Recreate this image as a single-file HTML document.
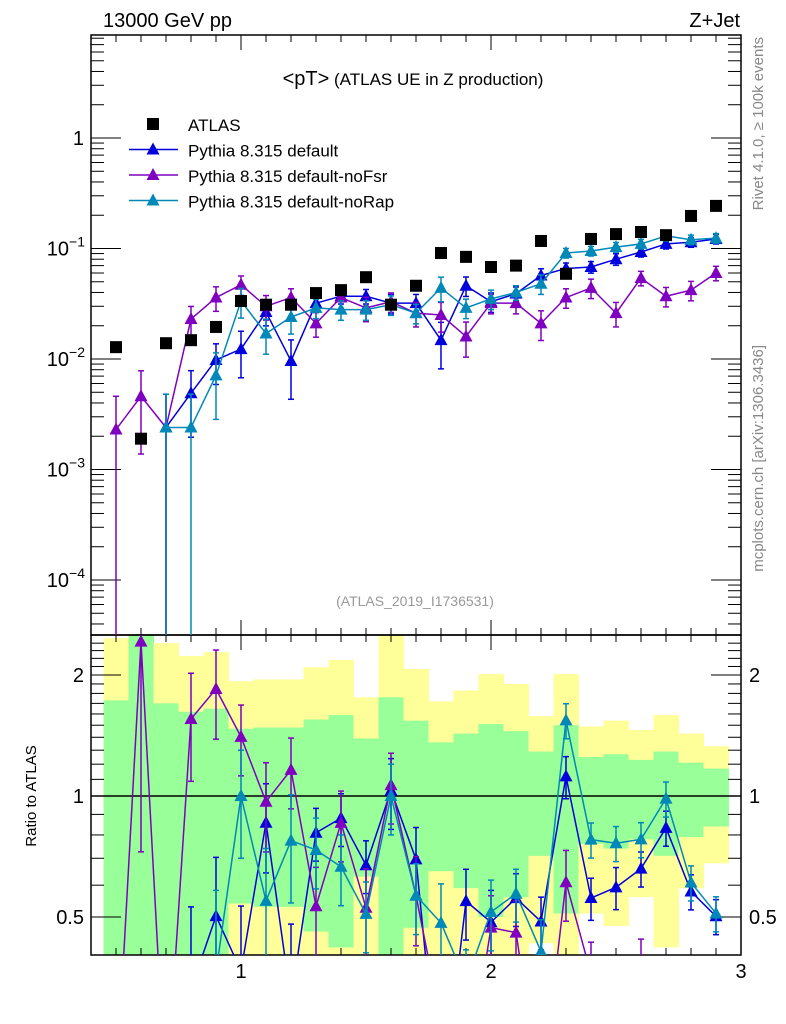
<!DOCTYPE html>
<html><head><meta charset="utf-8"><style>
html,body{margin:0;padding:0;background:#fff;width:786px;height:1024px;overflow:hidden}
svg{display:block}
svg text{font-family:"Liberation Sans",sans-serif}
</style></head><body>
<svg id="c" width="786" height="1024" xmlns="http://www.w3.org/2000/svg"></svg>
<script>
const xs=[0.5,0.6,0.7,0.8,0.9,1.0,1.1,1.2,1.3,1.4,1.5,1.6,1.7,1.8,1.9,2.0,2.1,2.2,2.3,2.4,2.5,2.6,2.7,2.8,2.9];
const atlas=[0.0128,0.0019,0.0139,0.0148,0.0195,0.0335,0.031,0.031,0.0395,0.042,0.055,0.031,0.046,0.091,0.084,0.068,0.070,0.117,0.059,0.122,0.135,0.141,0.132,0.197,0.243];
const pyDefault=[null,null,0.0024,0.0049,0.0098,0.0123,0.0266,0.0096,0.032,0.037,0.037,0.032,0.032,0.0148,0.046,0.033,0.039,0.057,0.066,0.068,0.080,0.093,0.110,0.114,0.122];
const pyNoFsr=[0.0023,0.0046,0.0024,0.023,0.036,0.047,0.030,0.036,0.021,0.036,0.029,0.033,0.026,0.025,0.016,0.032,0.032,0.021,0.036,0.044,0.026,0.054,0.037,0.042,0.060];
const pyNoRap=[null,null,0.0024,0.0024,0.0071,0.0335,0.017,0.024,0.029,0.028,0.028,0.031,0.026,0.044,0.029,0.035,0.040,0.048,0.091,0.095,0.103,0.110,0.130,0.120,0.124];
const errDefault=[0,0,1,0.6,0.4,0.45,0.25,0.55,0.15,0.15,0.15,0.2,0.2,0.45,0.2,0.2,0.15,0.15,0.12,0.12,0.12,0.1,0.1,0.1,0.1];
const errNoFsr=[1,0.7,1,0.3,0.25,0.2,0.25,0.2,0.25,0.2,0.25,0.2,0.25,0.3,0.35,0.2,0.2,0.3,0.2,0.2,0.25,0.15,0.2,0.2,0.15];
const errNoRap=[0,0,1,1,0.6,0.3,0.35,0.3,0.2,0.2,0.2,0.2,0.2,0.25,0.2,0.2,0.15,0.2,0.1,0.1,0.1,0.1,0.1,0.1,0.1];
const yellowHi=[2.47,2.6,2.40,2.23,2.28,1.93,1.95,1.95,2.09,2.18,1.76,2.6,2.07,1.72,1.83,2.01,1.90,1.58,2.01,1.49,1.54,1.46,1.59,1.43,1.33];
const greenHi=[1.73,2.6,1.70,1.62,1.65,1.47,1.48,1.48,1.55,1.59,1.39,1.76,1.54,1.36,1.43,1.51,1.45,1.29,1.50,1.25,1.27,1.23,1.29,1.21,1.17];
const greenLo=[0.3,0.3,0.3,0.3,0.3,0.54,0.53,0.53,0.46,0.42,0.63,0.3,0.47,0.65,0.59,0.50,0.56,0.71,0.51,0.76,0.74,0.78,0.71,0.79,0.84];
const yellowLo=[0.3,0.3,0.3,0.3,0.3,0.3,0.3,0.3,0.3,0.3,0.3,0.3,0.3,0.3,0.3,0.3,0.3,0.43,0.3,0.51,0.475,0.56,0.42,0.59,0.68];
const binW=0.1;
const xTickLabels=["1","2","3"];

const svg=document.getElementById('c');
const NS='http://www.w3.org/2000/svg';
const L=91,R=741,T=35,M=635,B=955,YMAX=1000;
const X=v=>L+(v-0.4)*250;
const Y=v=>138-Math.log10(v)*110.5;
const YR=v=>796-Math.log2(v)*121;
function mk(tag,attrs,parent){const e=document.createElementNS(NS,tag);for(const k in attrs)e.setAttribute(k,attrs[k]);(parent||svg).appendChild(e);return e;}
function txt(s,x,y,attrs,parent){const e=mk('text',Object.assign({x:x,y:y},attrs),parent);e.textContent=s;return e;}
const clipD=mk('defs',{});
const cp1=mk('clipPath',{id:'cm'},clipD);mk('rect',{x:L,y:T,width:R-L,height:M-T},cp1);
const cp2=mk('clipPath',{id:'cr'},clipD);mk('rect',{x:L,y:M,width:R-L,height:B-M},cp2);

const gBand=mk('g',{'clip-path':'url(#cr)'});


xs.forEach((x,i)=>{
  const x0=X(x-binW/2),w=X(x+binW/2)-x0;
  const y1=mk('rect',{x:x0,y:YR(yellowHi[i]),width:w+0.5,height:Math.min(YR(yellowLo[i]),B)-YR(yellowHi[i]),fill:'#ffff99'},gBand);
  
  
  const g1=mk('rect',{x:x0,y:YR(greenHi[i]),width:w+0.5,height:Math.min(YR(greenLo[i]),B)-YR(greenHi[i]),fill:'#99ff99'},gBand);
  
  
});
mk('line',{x1:L,x2:R,y1:YR(1),y2:YR(1),stroke:'#000','stroke-width':1.5});

mk('rect',{x:L,y:T,width:R-L,height:M-T,fill:'none',stroke:'#000','stroke-width':1.5});
mk('rect',{x:L,y:M,width:R-L,height:B-M,fill:'none',stroke:'#000','stroke-width':1.5});

for(let k=4;k<=30;k++){const v=k/10,x=X(v),maj=(k%10===0),len=maj?15:7;
  [[T,1],[M,-1],[M,1],[B,-1]].forEach(([y0,d])=>mk('line',{x1:x,x2:x,y1:y0,y2:y0+d*len,stroke:'#000','stroke-width':1}));
}
xTickLabels.forEach((s,i)=>{const t=txt(s,X(i+1),978,{'font-size':20,'text-anchor':'middle'});});
for(let d=-5;d<=0;d++){for(let m=1;m<=9;m++){const v=m*Math.pow(10,d),y=Y(v);if(y<T||y>M)continue;const len=m===1?30:13;
  mk('line',{x1:L,x2:L+len,y1:y,y2:y,stroke:'#000'});mk('line',{x1:R,x2:R-len,y1:y,y2:y,stroke:'#000'});}}
const yl=[[1,'1'],[0.1,'10'],[0.01,'10'],[0.001,'10'],[0.0001,'10']];
const ex=['','−1','−2','−3','−4'];
yl.forEach(([v,s],i)=>{const t=txt('',84,Y(v)+7,{'font-size':20,'text-anchor':'end'});
  if(i===0)t.textContent='1';else{const a=mk('tspan',{},t);a.textContent='10';const b=mk('tspan',{dy:-9,'font-size':14},t);b.textContent=ex[i];t.setAttribute('x',85);}});
for(let v=0.4;v<=2.5;v+=0.1){const y=YR(v);if(y<M||y>B)continue;const maj=Math.abs(v-0.5)<1e-6||Math.abs(v-1)<1e-6||Math.abs(v-2)<1e-6;const len=maj?30:13;
  mk('line',{x1:L,x2:L+len,y1:y,y2:y,stroke:'#000'});mk('line',{x1:R,x2:R-len,y1:y,y2:y,stroke:'#000'});}
[[2,'2'],[1,'1'],[0.5,'0.5']].forEach(([v,s])=>{txt(s,84,YR(v)+7,{'font-size':20,'text-anchor':'end'});txt(s,749,YR(v)+7,{'font-size':20});});

const series=[[pyDefault,errDefault,'#0000dd','pythia-default'],[pyNoFsr,errNoFsr,'#8000c0','pythia-nofsr'],[pyNoRap,errNoRap,'#0088b8','pythia-norap']];
function tri(x,y,c,p){return mk('path',{d:`M${x} ${y-7}L${x+6.5} ${y+5}L${x-6.5} ${y+5}Z`,fill:c},p);}
function seg(a,b,c,g){
  let [x1,y1]=a,[x2,y2]=b;
  if(y1>YMAX&&y2>YMAX)return;
  if(y1>YMAX){const t=(YMAX-y2)/(y1-y2);x1=x2+(x1-x2)*t;y1=YMAX;}
  if(y2>YMAX){const t=(YMAX-y1)/(y2-y1);x2=x1+(x2-x1)*t;y2=YMAX;}
  mk('line',{x1:x1,y1:y1,x2:x2,y2:y2,stroke:c,'stroke-width':1.5},g);
}
series.forEach(([vals,err,c,nm])=>{
  [['cm',Y,v=>v],['cr',YR,(v,i)=>v/atlas[i]]].forEach(([clip,YF,tf],pi)=>{
    const g=mk('g',{'clip-path':`url(#${clip})`});
    
    
    let pts=[];
    vals.forEach((v,i)=>{if(v==null)return;const r=tf(v,i);const x=X(xs[i]);pts.push([x,YF(r)]);
      const lo=r*(1-err[i]),hi=r*(1+err[i]);const ylo=lo>0?Math.min(YF(lo),YMAX):YMAX,yhi=YF(hi);
      if(yhi>=YMAX)return;
      mk('line',{x1:x,x2:x,y1:ylo,y2:yhi,stroke:c,'stroke-width':1.5},g);
      mk('line',{x1:x-3,x2:x+3,y1:yhi,y2:yhi,stroke:c,'stroke-width':1.5},g);
      if(lo>0&&YF(lo)<YMAX)mk('line',{x1:x-3,x2:x+3,y1:ylo,y2:ylo,stroke:c,'stroke-width':1.5},g);
    });
    for(let k=0;k+1<pts.length;k++)seg(pts[k],pts[k+1],c,g);
    pts.forEach(p=>{if(p[1]>B+10)return;const t=tri(p[0],p[1],c,g);});
  });
});
const ga=mk('g',{'clip-path':'url(#cm)'});


atlas.forEach((v,i)=>{const r=mk('rect',{x:X(xs[i])-6,y:Y(v)-6,width:12,height:12,fill:'#000'},ga);});

txt('13000 GeV pp',103,27,{'font-size':20});
txt('Z+Jet',740,27,{'font-size':20,'text-anchor':'end'});
const ti=txt('',413,85,{'text-anchor':'middle','font-size':17});
const t1=mk('tspan',{'font-size':20},ti);t1.textContent='<pT>';const t2=mk('tspan',{},ti);t2.textContent=' (ATLAS UE in Z production)';

const leg=[['ATLAS',null],['Pythia 8.315 default','#0000dd'],['Pythia 8.315 default-noFsr','#8000c0'],['Pythia 8.315 default-noRap','#0088b8']];
leg.forEach(([s,c],i)=>{const y=124+i*25.5;const g=mk('g',{});
  if(!c)mk('rect',{x:147,y:y-6,width:12,height:12,fill:'#000'},g);else{mk('line',{x1:129,x2:178,y1:y,y2:y,stroke:c,'stroke-width':1.5},g);tri(153,y,c,g);}
  txt(s,188,y+7,{'font-size':17},g);});
txt('(ATLAS_2019_I1736531)',415,606,{'font-size':14,fill:'#999','text-anchor':'middle'});
txt('Rivet 4.1.0, ≥ 100k events',0,0,{'font-size':15,fill:'#888','text-anchor':'end',transform:'translate(763,37) rotate(-90)'});
txt('mcplots.cern.ch [arXiv:1306.3436]',0,0,{'font-size':15,fill:'#888','text-anchor':'end',transform:'translate(763,345) rotate(-90)'});
txt('Ratio to ATLAS',0,0,{'font-size':15,'text-anchor':'middle',transform:'translate(36,796) rotate(-90)'});
</script>
</body></html>
